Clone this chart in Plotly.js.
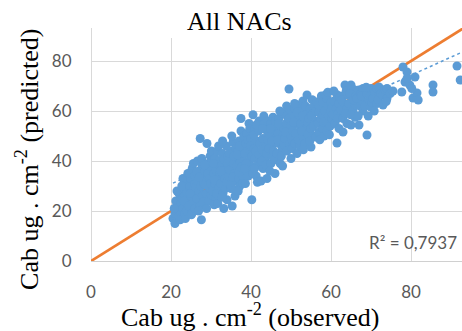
<!DOCTYPE html>
<html>
<head>
<meta charset="utf-8">
<script src="https://cdn.plot.ly/plotly-3.0.1.min.js"></script>
<style>html,body{margin:0;padding:0;background:#fff;}#chart{width:462px;height:331px;}</style>
</head>
<body>
<div id="chart"></div>
<script>
// Observed (x) and predicted (y) Cab values
const observed = [
  20.5,21,21,21.5,21.2,22,22,21.8,22.5,22.3,21.5,20.8,
  22.8,23,23.2,23.5,23.4,23.8,23,24,24,23.6,22.7,24.2,23.9,23.3,
  24.5,24.7,25,25,25.2,25.5,25.3,25.8,26,24.6,25.1,25.9,26,24.8,25.6,26.2,
  26.5,26.8,27,27.3,27,27.2,27.5,27.8,26.6,27.9,28,26.9,27.6,28.2,26.4,27.7,28.1,27.1,
  28.5,28.8,29,29,29.3,29.5,29.7,29.8,28.6,29.2,30,30,28.9,29.6,30.2,28.4,29.9,30.1,
  30.5,30.7,31,31,31.3,31.5,31.8,31.6,30.8,31.2,32,32,31.9,30.6,31.4,32.2,30.9,31.7,
  32.5,32.6,32.8,33,33,33.3,33.5,33.8,33.6,32.9,34,34,33.2,34.2,32.4,33.9,34.1,32.7,
  34.5,34.8,35,35,35.3,35.5,35.5,35.8,36,36,34.7,35.2,35.9,34.6,35.6,36.2,34.9,35.4,36.1,35.7,
  36.5,36.7,37,37,37.2,37.5,37.5,37.8,38,37.5,36.8,37.3,38,38.2,36.6,37.9,37.1,38.3,36.9,37.6,
  38.5,38.7,39,39,39.3,39.5,39.5,39.8,40,40.5,38.6,39.2,40,38.8,39.7,40.2,38.4,39.9,
  40.2,40.5,40.8,41,41,41.3,41.5,41.8,42,41.2,40.7,42,41.6,42.2,40.9,41.9,42.4,41.4,
  42.5,42.8,43,43,43.3,43.5,43.8,44,44,43.2,42.7,43.7,44.2,42.9,43.9,44.3,
  44.5,44.8,45,45,45.5,45.3,45.8,46,46,44.7,45.6,46.2,44.9,45.9,46.1,45.2,
  46.5,46.8,47,47,47.3,47.5,47.8,48,48,46.7,47.6,48.2,46.9,47.9,48.3,47.2,
  48.5,48.8,49,49,49.5,49.3,49.6,49.8,50,50,48.7,49.5,50.2,48.9,50.3,49.9,
  50.5,50.8,51,51,51.3,51.5,51.8,52,52,50.7,51.6,52.2,51.1,52.4,50.9,51.9,
  52.5,52.8,53,53,53.3,53.5,53.8,54,54,52.7,53.6,54.2,53.1,54.3,52.9,
  54.5,54.8,55,55,55.3,55.5,55.8,56,56,54.7,55.6,56.2,56.5,55.1,56.3,
  56.8,57,57,57.3,57.5,57.8,58,58,57.2,57.6,58.2,56.9,58.3,57.9,
  58.5,58.8,59,59,59.3,59.5,59.8,60,60,58.7,59.6,60.2,59.2,60.3,
  60.5,60.8,61,61.5,61.3,61.5,61.8,62,62,60.7,61.6,62.2,
  62.5,62.8,63,63,63.5,63.3,63.8,64,64,62.7,63.6,64.2,
  64.5,65,65,65.3,65.5,65.8,66,66,64.7,65.6,66.2,64.9,
  66.5,67,67,67.3,67.5,67.8,68,68,66.8,67.6,
  68.5,69,69,69.5,70,70,69.3,69.8,68.8,70.2,
  70.5,71,71.5,71.5,72,72,70.8,71.8,
  72.5,73,73,73.5,74,74,74.8,75.5,73.8,
  77.7,78,78.5,79,79.7,79,80.5,81,81.5,81.8,80.2,85.5,85.5,91.5,92.3
];
const predicted = [
  17,15,19,22,24,18,27,20.5,23,16.5,28,21,
  25,21,29,19,26,31,33,23,27.5,17,30,35,20,24,
  22,30,26,33,19,28,37,24,31,35,18.5,34,21,27,39,29.5,
  25,32,28,49,36,22,30,38,40,26,34,20,16.5,31,35.5,41,23.5,33.5,
  36,27,47,32,39,24,29,42,30.5,35,26.5,37.5,21,33,40,38.5,31,44,
  28,35,41,31,25,38,33,44,22.5,36.5,29.5,40,46,39,27,35,32.5,23,
  31,38,43,27,35,40.5,33,46,29,48,37,24.5,21,42,36,31.5,39,25.5,
  34,40,29,44,22,37,47.5,32,41.5,26,36.5,50,35,43,39,45,30.5,33.5,28.5,42,
  38,44,33,48,30,41,52,36,45.5,57,28,39.5,34,50,42.5,31,46,40,35.5,37.5,
  43,47,36,51,34,40,55,44,38,58.5,31,48.5,49,39,53,42,37,46,
  24.5,35,45,41,53,34,48,38.5,56,44,50.5,42.5,31.5,47,37,52,39.5,54.5,
  32,44.5,49,37,55,41,46,33,52,58,40,38.5,48.5,53,43,56,
  45,50,39,55,57.5,42,47,35,52.5,36,44,49,53,40.5,56,48,
  43,51,47,57,39,54,45,50,59,48.5,42,53,55,38,46.5,60,
  49,55,44,58,68.8,52,47,60.5,41,54,51.5,57,48.5,62,45,50.5,
  52,58,47,61,55,43,50,62.4,57,55.5,59.5,46,51,53,63,48.5,
  55,60,50,64,57,47,53,66.4,59,52,62,55.5,44.5,50.5,58,
  57,61,45.6,53,64.5,59,50,56,62,48,54,49.6,63.6,58,60,
  55,59.5,51.5,64,57,61.5,53,58.4,48.5,66,55.5,62.5,50,63.5,
  60,56,65,52,62,58,54,63.5,60,66.5,50.5,57,67.5,61.5,
  58.5,64,55,47.2,61,66.5,59,63,53,68,57,65.5,
  60.5,66,51.6,57,70.4,63,68,61,55,64.5,59,66.5,
  63,70.4,54.4,66,60,68.5,62.5,57.5,67,64.5,66,58.5,
  65,68.4,54.4,62,67,64,60,69,58,66,
  62,50.4,67,64.5,69,61.6,58,66,69.5,63.5,
  65,67.5,63,69,69.6,66,60,64.5,
  67,66.4,62.4,68.5,69,65,67,68,63.8,
  67.6,77.6,71.6,75.6,70.4,73,65.2,73.6,67.2,64.4,69,70.4,67.6,78,72.4
];
const tickValues = [0, 20, 40, 60, 80];
const identityLine = [0, 100];       // 1:1 line
const trendSlope = 0.725;            // linear trendline
const trendIntercept = 16.3;
const r2Text = "R² = 0,7937";
const titleText = "All NACs";
const xTitle = "Cab ug . cm<sup>-2</sup> (observed)";
const yTitle = "Cab ug . cm<sup>-2</sup> (predicted)";

const xMin = Math.min(...observed), xMax = Math.max(...observed);
const trendX = [xMin, xMax];
const trendY = trendX.map(v => trendSlope * v + trendIntercept);

const traces = [
  {x: identityLine, y: identityLine, mode: 'lines', type: 'scatter',
   line: {color: '#ED7D31', width: 2.75}, hoverinfo: 'skip', showlegend: false},
  {x: trendX, y: trendY, mode: 'lines', type: 'scatter',
   line: {color: '#5B9BD5', width: 1.5, dash: 'dot'}, hoverinfo: 'skip', showlegend: false},
  {x: observed, y: predicted, mode: 'markers', type: 'scatter',
   marker: {color: '#5B9BD5', size: 9}, showlegend: false}
];

const tickFont = {family: 'Lato, "Open Sans", sans-serif', size: 17, color: '#595959'};
const serif = '"Liberation Serif", "Times New Roman", serif';

const layout = {
  width: 462, height: 331,
  margin: {l: 91, r: 0, t: 28, b: 70, pad: 0},
  paper_bgcolor: '#ffffff', plot_bgcolor: '#ffffff',
  xaxis: {range: [0, 92.75], tickvals: tickValues, ticktext: tickValues.map(String),
    showgrid: true, gridcolor: '#d9d9d9', gridwidth: 1,
    zeroline: true, zerolinecolor: '#d9d9d9', zerolinewidth: 1, showline: false,
    ticks: 'outside', ticklen: 16, tickcolor: 'rgba(0,0,0,0)', tickfont: tickFont, fixedrange: true},
  yaxis: {range: [0, 93.2], tickvals: tickValues, ticktext: tickValues.map(String),
    showgrid: true, gridcolor: '#d9d9d9', gridwidth: 1,
    zeroline: true, zerolinecolor: '#d0d0d0', zerolinewidth: 1, showline: false,
    ticks: 'outside', ticklen: 15, tickcolor: 'rgba(0,0,0,0)', tickfont: tickFont, fixedrange: true},
  shapes: [
    {type: 'rect', xref: 'paper', yref: 'paper', x0: 0.16, x1: 0.69, y0: 0.957, y1: 1.12,
     fillcolor: '#ffffff', line: {width: 0}, layer: 'above'}
  ],
  annotations: [
    {text: titleText, xref: 'paper', yref: 'paper', x: 0.4016, y: 1.026,
     xanchor: 'center', yanchor: 'middle', showarrow: false,
     font: {family: serif, size: 26, color: '#000000'}},
    {text: xTitle, xref: 'paper', yref: 'paper', x: 0.43, y: -0.236,
     xanchor: 'center', yanchor: 'middle', showarrow: false,
     font: {family: serif, size: 26, color: '#000000'}},
    {text: yTitle, xref: 'paper', yref: 'paper', x: -0.17, y: 0.438,
     xanchor: 'center', yanchor: 'middle', showarrow: false, textangle: -90,
     font: {family: serif, size: 26, color: '#000000'}},
    {text: r2Text, xref: 'paper', yref: 'paper', x: 0.868, y: 0.0815,
     xanchor: 'center', yanchor: 'middle', showarrow: false,
     font: {family: 'Lato, "Open Sans", sans-serif', size: 17, color: '#595959'}}
  ]
};

Plotly.newPlot('chart', traces, layout, {displayModeBar: false, staticPlot: true});
</script>
</body>
</html>
